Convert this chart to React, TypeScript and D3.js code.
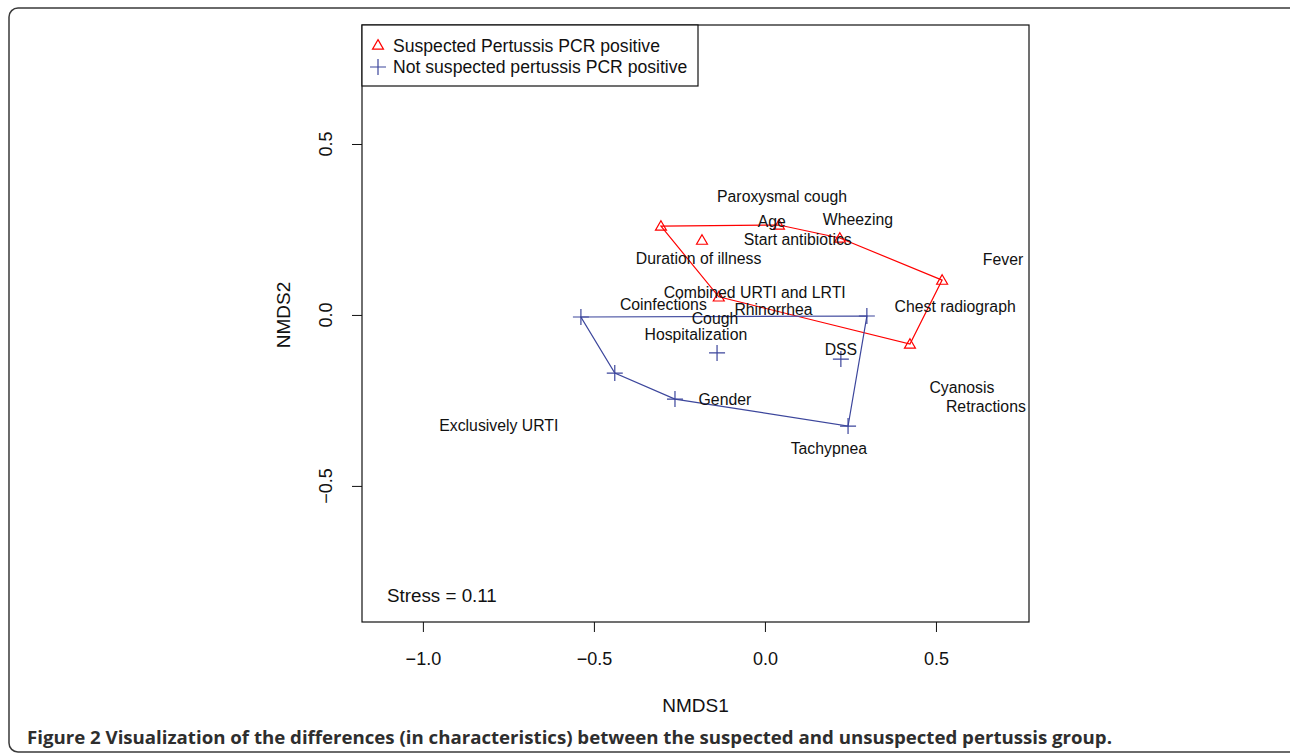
import React, { useRef, useEffect } from "react";
import * as d3 from "d3";

// group 1: suspected pertussis PCR positive (triangles), hull order
const suspectedX = [-0.304, 0.041, 0.219, 0.518, 0.424, -0.135, -0.184];
const suspectedY = [0.26, 0.263, 0.225, 0.102, -0.085, 0.053, 0.219];
const suspectedHull = [0, 1, 2, 3, 4, 5];

// group 2: not suspected (crosses), hull order
const notSuspX = [-0.538, 0.298, 0.243, -0.263, -0.439, -0.14, 0.222];
const notSuspY = [-0.006, -0.003, -0.325, -0.246, -0.17, -0.111, -0.129];
const notSuspHull = [0, 1, 2, 3, 4];

// variable labels
const varNames = [
  "Paroxysmal cough", "Age", "Wheezing", "Start antibiotics", "Duration of illness",
  "Fever", "Combined URTI and LRTI", "Coinfections", "Rhinorrhea", "Chest radiograph",
  "Cough", "Hospitalization", "DSS", "Cyanosis", "Retractions", "Gender",
  "Exclusively URTI", "Tachypnea",
];
const varX = [0.05, 0.02, 0.272, 0.096, -0.194, 0.696, -0.03, -0.297, 0.025, 0.556,
  -0.146, -0.202, 0.222, 0.576, 0.646, -0.117, -0.778, 0.187];
const varY = [0.345, 0.272, 0.278, 0.222, 0.164, 0.161, 0.067, 0.032, 0.015, 0.026,
  -0.009, -0.056, -0.102, -0.211, -0.269, -0.246, -0.322, -0.392];

const xTicks = [-1.0, -0.5, 0.0, 0.5];
const yTicks = [-0.5, 0.0, 0.5];

const RED = "#ff0000";
const BLUE = "#3c469c";

const App = () => {
  const svgRef = useRef<SVGSVGElement>(null);

  useEffect(() => {
    const svg = d3.select(svgRef.current);
    svg.selectAll("*").remove();
    const font = "'Liberation Sans', Arial, sans-serif";
    const fmt = (v: number) => d3.format(".1f")(v).replace("-", "\u2212");

    // outer figure frame
    svg.append("rect")
      .attr("x", 9).attr("y", 8).attr("width", 1300).attr("height", 744)
      .attr("rx", 9).attr("fill", "none").attr("stroke", "#3a3a3a").attr("stroke-width", 1.5);

    const plot = { left: 362, right: 1029, top: 25, bottom: 622 };
    const x = d3.scaleLinear().domain([-1.178, 0.772]).range([plot.left, plot.right]);
    const y = d3.scaleLinear().domain([-0.898, 0.848]).range([plot.bottom, plot.top]);

    // hulls
    const line = d3.line<number[]>().x((d) => x(d[0])).y((d) => y(d[1]));
    const redHull = suspectedHull.map((i) => [suspectedX[i], suspectedY[i]]);
    svg.append("path").attr("d", line(redHull) + "Z")
      .attr("fill", "none").attr("stroke", RED).attr("stroke-width", 1.2);
    const blueHull = notSuspHull.map((i) => [notSuspX[i], notSuspY[i]]);
    svg.append("path").attr("d", line(blueHull) + "Z")
      .attr("fill", "none").attr("stroke", BLUE).attr("stroke-width", 1.2);

    // points
    const tri = d3.symbol().type(d3.symbolTriangle).size(52);
    suspectedX.forEach((v, i) => {
      svg.append("path").attr("d", tri())
        .attr("transform", `translate(${x(v)},${y(suspectedY[i]) + 1})`)
        .attr("fill", "none").attr("stroke", RED).attr("stroke-width", 1.2);
    });
    const cross = (g: any, cx: number, cy: number) => {
      g.append("path").attr("d", `M${cx - 8},${cy}H${cx + 8}M${cx},${cy - 8}V${cy + 8}`)
        .attr("stroke", BLUE).attr("stroke-width", 1.2).attr("fill", "none");
    };
    notSuspX.forEach((v, i) => cross(svg, x(v), y(notSuspY[i])));

    // variable labels
    svg.append("g").selectAll("text").data(varNames).join("text")
      .attr("x", (d, i) => x(varX[i]))
      .attr("y", (d, i) => y(varY[i]))
      .attr("text-anchor", "middle").attr("dominant-baseline", "central")
      .attr("font-family", font).attr("font-size", 15.8).attr("fill", "#111")
      .text((d) => d);

    // plot box
    svg.append("rect")
      .attr("x", plot.left).attr("y", plot.top)
      .attr("width", plot.right - plot.left).attr("height", plot.bottom - plot.top)
      .attr("fill", "none").attr("stroke", "#111").attr("stroke-width", 1.2);

    // x axis
    const xg = svg.append("g").attr("transform", `translate(0,${plot.bottom})`)
      .call(d3.axisBottom(x).tickValues(xTicks).tickSize(10).tickPadding(20)
        .tickFormat((d) => fmt(d as number)));
    xg.select(".domain").remove();
    xg.selectAll("line").attr("stroke", "#111");
    xg.selectAll("text").attr("font-family", font).attr("font-size", 18).attr("fill", "#111");

    // y axis (rotated labels)
    const yg = svg.append("g").attr("transform", `translate(${plot.left},0)`)
      .call(d3.axisLeft(y).tickValues(yTicks).tickSize(10).tickFormat(() => ""));
    yg.select(".domain").remove();
    yg.selectAll("line").attr("stroke", "#111");
    svg.append("g").selectAll("text").data(yTicks).join("text")
      .attr("transform", (t) => `translate(332,${y(t)}) rotate(-90)`)
      .attr("text-anchor", "middle")
      .attr("font-family", font).attr("font-size", 18).attr("fill", "#111")
      .text((t) => fmt(t));

    // axis titles
    svg.append("text").attr("x", (plot.left + plot.right) / 2).attr("y", 712)
      .attr("text-anchor", "middle").attr("font-family", font).attr("font-size", 19)
      .attr("fill", "#111").text("NMDS1");
    svg.append("text").attr("transform", `translate(290,${y(0)}) rotate(-90)`)
      .attr("text-anchor", "middle").attr("font-family", font).attr("font-size", 19)
      .attr("fill", "#111").text("NMDS2");

    // stress
    svg.append("text").attr("x", 387).attr("y", 602)
      .attr("font-family", font).attr("font-size", 18.8).attr("fill", "#111")
      .text("Stress = 0.11");

    // legend
    const lg = svg.append("g");
    lg.append("rect").attr("x", plot.left).attr("y", plot.top).attr("width", 336).attr("height", 61)
      .attr("fill", "#fff").attr("stroke", "#111").attr("stroke-width", 1.2);
    lg.append("path").attr("d", tri()).attr("transform", "translate(378,46)")
      .attr("fill", "none").attr("stroke", RED).attr("stroke-width", 1.2);
    cross(lg, 378, 67);
    lg.append("text").attr("x", 393).attr("y", 52).attr("font-family", font).attr("font-size", 17.6)
      .attr("fill", "#111").text("Suspected Pertussis PCR positive");
    lg.append("text").attr("x", 393).attr("y", 73).attr("font-family", font).attr("font-size", 17.6)
      .attr("fill", "#111").text("Not suspected pertussis PCR positive");

    // caption
    const cap = svg.append("text").attr("x", 27).attr("y", 744)
      .attr("font-family", "'Open Sans', sans-serif").attr("font-weight", 700)
      .attr("font-size", 18).attr("fill", "#2e2e2e")
      .attr("textLength", 1085).attr("lengthAdjust", "spacingAndGlyphs");
    cap.append("tspan").text("Figure 2 ");
    cap.append("tspan").text("Visualization of the differences (in characteristics) between the suspected and unsuspected pertussis group.");
  }, []);

  return (
    <div style={{ position: "absolute", left: 0, top: 0 }}>
      <svg ref={svgRef} width={1290} height={756} style={{ display: "block" }}></svg>
    </div>
  );
};

export default App;
